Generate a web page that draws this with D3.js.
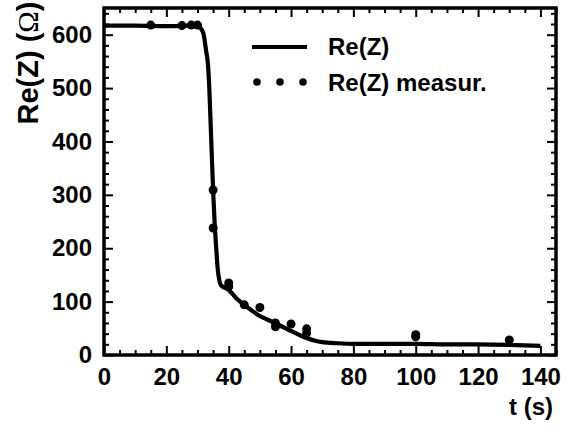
<!DOCTYPE html>
<html>
<head>
<meta charset="utf-8">
<script src="https://cdn.jsdelivr.net/npm/d3@7"></script>
<style>
  html, body { margin: 0; padding: 0; background: #fff; }
  svg { display: block; }
  text { font-family: Arial, "Liberation Sans", sans-serif; font-weight: bold; fill: #000; }
</style>
</head>
<body>
<svg id="chart" width="566" height="430"></svg>
<script>
// Fitted curve Re(Z)
const fitT   = [0, 10, 20, 26, 29, 30.5, 31.8, 32.7, 33.4, 33.8, 34.2, 34.6, 35.0, 35.5, 36.0, 36.5, 37.0, 37.5, 40, 42.5, 45, 47.5, 50, 52.5, 55, 57.5, 60, 62.5, 65, 67.5, 70, 75, 80, 90, 100, 110, 120, 130, 140];
const fitRe  = [617, 617, 616, 617, 618, 615, 604, 572, 540, 497, 435, 371, 309, 247, 200, 160, 140, 131, 122, 106, 94, 83, 73, 66, 60, 52, 45, 38, 32, 27, 24, 22, 21, 21, 21, 20, 20, 19, 17];
// Measured points Re(Z) measur.
const measT  = [15, 25, 28, 30, 35, 35, 40, 40, 45, 50, 55, 55, 60, 65, 65, 100, 100, 130];
const measRe = [618, 617, 618, 618, 309, 238, 135, 128, 94, 89, 60, 53, 58, 49, 41, 38, 34, 28];
// Axis ticks
const xMajor = [0, 20, 40, 60, 80, 100, 120, 140];
const yMajor = [0, 100, 200, 300, 400, 500, 600];
const legendLabels = ["Re(Z)", "Re(Z) measur."];

const svg = d3.select("#chart");
const L = 104, R = 556, T = 8, B = 355;
const x = d3.scaleLinear().domain([0, 145]).range([L, R]);
const y = d3.scaleLinear().domain([0, 650]).range([B, T]);

const xMinor = d3.range(0, 145.01, 5).filter(v => !xMajor.includes(v));
const yMinor = d3.range(0, 650.01, 20).filter(v => !yMajor.includes(v));

function styleAxis(g) {
  g.select(".domain").remove();
  g.selectAll(".tick line").attr("stroke", "#000").attr("stroke-width", 2);
  g.selectAll("text").style("font-size", "24px").style("font-weight", "bold")
    .style("font-family", "Arial, 'Liberation Sans', sans-serif");
}

// bottom
svg.append("g").attr("transform", `translate(0,${B})`)
  .call(d3.axisBottom(x).tickValues(xMajor).tickSize(-9).tickPadding(13).tickFormat(d3.format("d")))
  .call(styleAxis);
svg.append("g").attr("transform", `translate(0,${B})`)
  .call(d3.axisBottom(x).tickValues(xMinor).tickSize(-5).tickFormat(""))
  .call(styleAxis);
// top
svg.append("g").attr("transform", `translate(0,${T})`)
  .call(d3.axisTop(x).tickValues(xMajor).tickSize(-9).tickFormat(""))
  .call(styleAxis);
svg.append("g").attr("transform", `translate(0,${T})`)
  .call(d3.axisTop(x).tickValues(xMinor).tickSize(-5).tickFormat(""))
  .call(styleAxis);
// left
svg.append("g").attr("transform", `translate(${L},0)`)
  .call(d3.axisLeft(y).tickValues(yMajor).tickSize(-9).tickPadding(12).tickFormat(d3.format("d")))
  .call(styleAxis);
svg.append("g").attr("transform", `translate(${L},0)`)
  .call(d3.axisLeft(y).tickValues(yMinor).tickSize(-5).tickFormat(""))
  .call(styleAxis);
// right
svg.append("g").attr("transform", `translate(${R},0)`)
  .call(d3.axisRight(y).tickValues(yMajor).tickSize(-9).tickFormat(""))
  .call(styleAxis);
svg.append("g").attr("transform", `translate(${R},0)`)
  .call(d3.axisRight(y).tickValues(yMinor).tickSize(-5).tickFormat(""))
  .call(styleAxis);

// frame
svg.append("rect").attr("x", L).attr("y", T).attr("width", R - L).attr("height", B - T)
  .attr("fill", "none").attr("stroke", "#000").attr("stroke-width", 3.5);

// fitted line
const fit = fitT.map((t, i) => [t, fitRe[i]]);
svg.append("path").datum(fit)
  .attr("fill", "none").attr("stroke", "#000").attr("stroke-width", 4.2)
  .attr("stroke-linejoin", "round")
  .attr("d", d3.line().x(d => x(d[0])).y(d => y(d[1])).curve(d3.curveMonotoneX));

// measured dots
svg.append("g").selectAll("circle")
  .data(measT.map((t, i) => [t, measRe[i]]))
  .join("circle")
  .attr("cx", d => x(d[0])).attr("cy", d => y(d[1])).attr("r", 4.5).attr("fill", "#000");

// legend
svg.append("line").attr("x1", 252).attr("x2", 307).attr("y1", 47).attr("y2", 47)
  .attr("stroke", "#000").attr("stroke-width", 4);
svg.append("text").attr("x", 328).attr("y", 55).style("font-size", "24px").text(legendLabels[0]);
[257, 280, 303].forEach(cx => svg.append("circle").attr("cx", cx).attr("cy", 82).attr("r", 3.8).attr("fill", "#000"));
svg.append("text").attr("x", 328).attr("y", 91).style("font-size", "24px").text(legendLabels[1]);

// axis titles
const yt = svg.append("text").attr("transform", "translate(38,63) rotate(-90)")
  .attr("text-anchor", "middle").style("font-size", "29px");
yt.append("tspan").text("Re(Z) (");
yt.append("tspan").style("font-family", "'Liberation Serif', 'DejaVu Serif', serif").style("font-weight", "normal").text("Ω");
yt.append("tspan").text(")");

svg.append("text").attr("x", 553).attr("y", 415).attr("text-anchor", "end")
  .style("font-size", "24px").text("t (s)");
</script>
</body>
</html>
